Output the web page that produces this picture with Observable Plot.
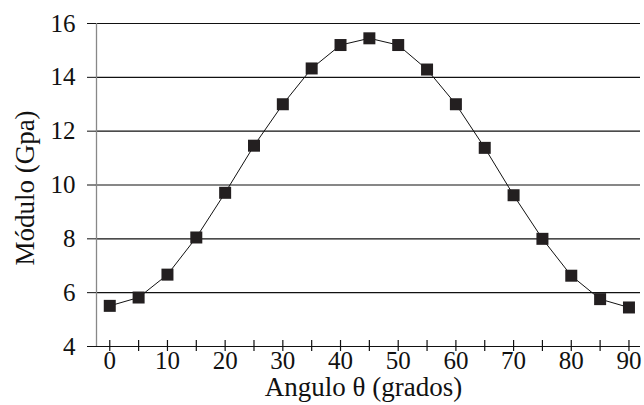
<!DOCTYPE html>
<html>
<head>
<meta charset="utf-8">
<script src="https://cdn.jsdelivr.net/npm/d3@7"></script>
<script src="https://cdn.jsdelivr.net/npm/@observablehq/plot@0.6"></script>
<style>
  html, body { margin: 0; padding: 0; background: #fff; }
  #chart svg { display: block; }
  #chart svg text { font-family: "Liberation Serif", "Times New Roman", serif; }
  #chart svg g[aria-label$="tick label"] { font-size: 25px !important; }
  #chart svg g[aria-label$="tick label"] text { font-size: 25px !important; }
</style>
</head>
<body>
<div id="chart"></div>
<script>
const angles = [0, 5, 10, 15, 20, 25, 30, 35, 40, 45, 50, 55, 60, 65, 70, 75, 80, 85, 90];
const modulus = [5.51, 5.82, 6.67, 8.05, 9.71, 11.46, 13.0, 14.33, 15.2, 15.45, 15.2, 14.29, 13.0, 11.38, 9.62, 8.0, 6.63, 5.76, 5.45];
const xTickLabels = [0, 10, 20, 30, 40, 50, 60, 70, 80, 90];
const xTickMarks = [0, 5, 10, 15, 20, 25, 30, 35, 40, 45, 50, 55, 60, 65, 70, 75, 80, 85, 90];
const yTicks = [4, 6, 8, 10, 12, 14, 16];
const xLabel = "Angulo θ (grados)";
const yLabel = "Módulo (Gpa)";

const data = angles.map((a, i) => ({angle: a, value: modulus[i]}));
const xDomain = [-2.3, 92];

const chart = Plot.plot({
  width: 644,
  height: 405,
  marginLeft: 96,
  marginRight: 4,
  marginTop: 23,
  marginBottom: 59,
  style: {fontFamily: "Liberation Serif, Times New Roman, serif", fontSize: "25px", background: "#fff", color: "#111"},
  x: {domain: xDomain},
  y: {domain: [4, 16]},
  marks: [
    Plot.ruleY(yTicks, {stroke: "#111", strokeWidth: 1.2}),
    Plot.ruleX([xDomain[0]], {stroke: "#888", strokeWidth: 1.3}),
    Plot.axisY({ticks: yTicks, tickSize: 9, tickPadding: 12, fontSize: 25, label: null, stroke: "#111"}),
    Plot.axisX({ticks: xTickLabels, tickSize: 0, tickPadding: 5, fontSize: 25, label: null}),
    Plot.ruleX(xTickMarks, {x: d => d, y1: 4, y2: 4, insetTop: -6, insetBottom: -5, stroke: "#111", strokeWidth: 1.2}),
    Plot.line(data, {x: "angle", y: "value", stroke: "#111", strokeWidth: 1}),
    Plot.dot(data, {x: "angle", y: "value", symbol: "square", r: 6.77, fill: "#231f20", stroke: "none"}),
    Plot.text([xLabel], {frameAnchor: "bottom", textAnchor: "middle", dx: -5, dy: 41, lineAnchor: "middle", fontSize: 27, fill: "#111"}),
    Plot.text([yLabel], {frameAnchor: "left", textAnchor: "middle", rotate: -90, dx: -71, dy: 3, lineAnchor: "middle", fontSize: 27, fill: "#111"})
  ]
});
document.getElementById("chart").appendChild(chart);
</script>
</body>
</html>
